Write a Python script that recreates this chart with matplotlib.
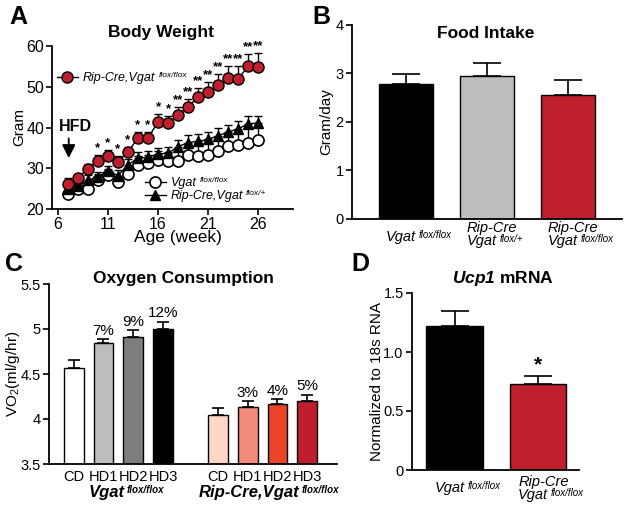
import matplotlib
matplotlib.use('Agg')
import matplotlib.pyplot as plt
from matplotlib.lines import Line2D
from matplotlib.transforms import blended_transform_factory, offset_copy

plt.rcParams['font.family'] = ['Liberation Sans', 'DejaVu Sans']
plt.rcParams['mathtext.fontset'] = 'custom'
plt.rcParams['mathtext.rm'] = 'Liberation Sans'
plt.rcParams['mathtext.it'] = 'Liberation Sans:italic'
plt.rcParams['mathtext.bf'] = 'Liberation Sans:bold'
plt.rcParams['mathtext.bfit'] = 'Liberation Sans:italic:bold'

# ---------------- data ----------------
weeks = list(range(7, 27))
bw_ko = [26.2, 27.7, 29.8, 31.9, 33.0, 31.6, 33.9, 37.5, 37.5, 41.3, 41.1, 43.0, 45.1, 47.5, 48.7, 50.5, 52.1, 52.0, 55.0, 54.9]
bw_ko_sem = [1.3, 1.0, 1.2, 1.4, 1.4, 1.3, 1.4, 1.4, 1.5, 2.0, 1.8, 2.0, 2.0, 2.2, 2.5, 2.7, 3.0, 3.2, 3.0, 3.4]
bw_wt = [23.8, 24.9, 24.9, 27.2, 28.4, 26.6, 28.6, 30.9, 31.3, 32.1, 31.7, 31.9, 33.2, 33.1, 33.3, 34.3, 35.4, 35.6, 36.3, 37.0]
bw_wt_sem = [1.5, 1.0, 1.5, 1.3, 1.5, 1.5, 1.8, 2.0, 2.0, 2.2, 2.4, 2.6, 2.7, 3.0, 3.0, 3.2, 3.3, 3.5, 3.6, 3.6]
bw_het = [24.9, 25.6, 27.0, 27.9, 29.3, 28.2, 30.8, 32.5, 32.7, 33.5, 33.7, 35.3, 36.3, 36.6, 37.1, 38.0, 38.9, 39.7, 40.9, 41.1]
bw_het_sem = [1.0, 1.0, 1.3, 1.2, 1.3, 1.3, 1.5, 1.5, 1.5, 1.5, 1.6, 1.7, 1.8, 1.8, 1.8, 1.8, 1.8, 1.8, 1.8, 1.6]
bw_stars = ['', '', '', '*', '*', '*', '*', '*', '*', '*', '*',
            '**', '**', '**', '**', '**', '**', '**', '**', '**']
bw_legend = [('Rip-Cre,Vgat', 'flox/flox'), ('Vgat', 'flox/flox'), ('Rip-Cre,Vgat', 'flox/+')]

food_labels = [('', 'Vgat', 'flox/flox'), ('Rip-Cre', 'Vgat', 'flox/+'), ('Rip-Cre', 'Vgat', 'flox/flox')]
food_vals = [2.79, 2.94, 2.56]
food_sem = [0.19, 0.27, 0.30]

vo2_diets = ['CD', 'HD1', 'HD2', 'HD3']
vo2_wt = [4.57, 4.84, 4.91, 5.00]
vo2_wt_sem = [0.08, 0.05, 0.08, 0.08]
vo2_ko = [4.04, 4.13, 4.17, 4.20]
vo2_ko_sem = [0.08, 0.07, 0.05, 0.07]
vo2_wt_pct = ['', '7%', '9%', '12%']
vo2_ko_pct = ['', '3%', '4%', '5%']
vo2_groups = [('Vgat', 'flox/flox'), ('Rip-Cre,Vgat', 'flox/flox')]

ucp_labels = [('', 'Vgat', 'flox/flox'), ('Rip-Cre', 'Vgat', 'flox/flox')]
ucp_vals = [1.22, 0.73]
ucp_sem = [0.13, 0.07]

RED = '#c01f2e'
W, H = 629, 513
fig = plt.figure(figsize=(W / 100, H / 100), dpi=100)


def ax_px(l, r, t, b, tsize=10.5):
    ax = fig.add_axes([l / W, 1 - b / H, (r - l) / W, (b - t) / H])
    for s in ['top', 'right']:
        ax.spines[s].set_visible(False)
    for s in ['left', 'bottom']:
        ax.spines[s].set_linewidth(1.3)
    ax.tick_params(direction='out', length=4, width=1.2, labelsize=tsize, pad=2)
    return ax


def up_err(ax, x, y, e, cap, lw=1.2, z=2):
    ax.errorbar(x, y, yerr=[[0] * len(e), e], fmt='none', ecolor='black',
                elinewidth=lw, capsize=cap, capthick=lw, zorder=z)


def add_sup(ax, main_text, sup, size, weight='normal'):
    ax.annotate(sup, xy=(1, 1), xycoords=main_text, xytext=(2.0, 0.3), textcoords='offset points',
                ha='left', va='top', fontsize=size, style='italic', fontweight=weight, zorder=20)


def bar_label(ax, x, lines, base_px, size=10.5, supsize=7):
    # base_px: (single baseline, line-1 baseline, line-2 baseline) in pixels below the x axis
    tr0 = blended_transform_factory(ax.transData, ax.transAxes)
    top, main, sup = lines
    kw = dict(ha='left', va='baseline', fontsize=size, style='italic', clip_on=False)
    if top:
        ax.text(x, 0, top, transform=offset_copy(tr0, fig=fig, x=-20, y=-base_px[1], units='dots'), **kw)
        t = ax.text(x, 0, main, transform=offset_copy(tr0, fig=fig, x=-20, y=-base_px[2], units='dots'), **kw)
    else:
        t = ax.text(x, 0, main, transform=offset_copy(tr0, fig=fig, x=-20, y=-base_px[0], units='dots'), **kw)
    add_sup(ax, t, sup, supsize)


# ---------------- Panel A ----------------
axA = ax_px(52, 293, 46, 209, tsize=11.5)
axA.tick_params(pad=1.5)
up_err(axA, weeks, bw_wt, bw_wt_sem, 3, lw=1.0, z=2)
axA.plot(weeks, bw_wt, '-o', color='black', mfc='white', mec='black', ms=8, lw=1, mew=1.2, zorder=3)
up_err(axA, weeks, bw_het, bw_het_sem, 3, lw=1.0, z=4)
axA.plot(weeks, bw_het, '-^', color='black', ms=7.5, lw=1, zorder=5)
up_err(axA, weeks, bw_ko, bw_ko_sem, 3, lw=1.0, z=6)
axA.plot(weeks, bw_ko, '-o', color='black', mfc=RED, mec='black', ms=8, lw=1, mew=1.0, zorder=7)
for wk, v, e, s in zip(weeks, bw_ko, bw_ko_sem, bw_stars):
    if s:
        axA.text(wk, v + e + 0.2, s, ha='center', va='bottom', fontsize=9.5, fontweight='bold')
axA.set_xlim(5.43, 29.46)
axA.set_ylim(20, 60)
axA.set_xticks([6, 11, 16, 21, 26])
axA.set_yticks([20, 30, 40, 50, 60])
axA.set_xlabel('Age (week)', fontsize=12.5)
axA.xaxis.set_label_coords(0.523, -0.13)
axA.set_ylabel('Gram', fontsize=11)
axA.yaxis.set_label_coords(-0.105, 0.5)
axA.text(7.8, 40.2, 'HFD', ha='center', va='center', fontsize=11.5, fontweight='bold')
axA.annotate('', xy=(7.1, 31.8), xytext=(7.1, 38.0),
             arrowprops=dict(arrowstyle='-|>', color='black', lw=1.3, mutation_scale=20))
h_ko = Line2D([], [], color='black', lw=1, marker='o', mfc=RED, mec='black', ms=8)
h_wt = Line2D([], [], color='black', lw=1, marker='o', mfc='white', mec='black', ms=8, mew=1.2)
h_het = Line2D([], [], color='black', lw=1, marker='^', ms=7.5)
leg1 = axA.legend([h_ko], [bw_legend[0][0]], loc='upper left',
                  bbox_to_anchor=(0.02, 0.84), frameon=False, prop={'style': 'italic', 'size': 9},
                  handlelength=1.7, handletextpad=0.4, borderaxespad=0, borderpad=0)
axA.add_artist(leg1)
leg2 = axA.legend([h_wt, h_het], [bw_legend[1][0], bw_legend[2][0]], loc='lower left',
                  bbox_to_anchor=(0.385, 0.04), frameon=False, prop={'style': 'italic', 'size': 9},
                  handlelength=1.7, handletextpad=0.4, borderaxespad=0, borderpad=0, labelspacing=0.1)
add_sup(axA, leg1.get_texts()[0], bw_legend[0][1], 6)
add_sup(axA, leg2.get_texts()[0], bw_legend[1][1], 6)
add_sup(axA, leg2.get_texts()[1], bw_legend[2][1], 6)

# ---------------- Panel B ----------------
axB = ax_px(352, 622, 25, 219)
xb = list(range(len(food_vals)))
axB.bar(xb, food_vals, width=0.67, color=['black', '#bdbdbd', RED], edgecolor='black', linewidth=1.0, zorder=2)
up_err(axB, xb, food_vals, food_sem, 10)
axB.set_xlim(-0.67, 2.67)
axB.set_ylim(0, 4)
axB.set_yticks([0, 1, 2, 3, 4])
axB.set_xticks([])
for x, lab in zip(xb, food_labels):
    bar_label(axB, x, lab, (241 - 219, 232 - 219, 245 - 219))
axB.set_ylabel('Gram/day', fontsize=11)
axB.yaxis.set_label_coords(-0.07, 0.5)

# ---------------- Panel C ----------------
axC = ax_px(49, 337, 284, 464)
xc_wt = [0, 1, 2, 3]
xc_ko = [4.85, 5.85, 6.85, 7.85]
axC.bar(xc_wt, vo2_wt, width=0.66, color=['white', '#bdbdbd', '#7d7d7d', 'black'],
        edgecolor='black', linewidth=1.0, zorder=2)
axC.bar(xc_ko, vo2_ko, width=0.66, color=['#fdd6c7', '#f38b7b', '#eb4427', '#bf1e2e'],
        edgecolor='black', linewidth=1.0, zorder=2)
up_err(axC, xc_wt, vo2_wt, vo2_wt_sem, 4.5)
up_err(axC, xc_ko, vo2_ko, vo2_ko_sem, 4.5)
for xs, vs, es, ps in [(xc_wt, vo2_wt, vo2_wt_sem, vo2_wt_pct), (xc_ko, vo2_ko, vo2_ko_sem, vo2_ko_pct)]:
    for x, v, e, p in zip(xs, vs, es, ps):
        if p:
            axC.text(x, v + e + 0.015, p, ha='center', va='bottom', fontsize=11)
axC.set_xlim(-0.83, 8.85)
axC.set_ylim(3.5, 5.5)
axC.set_yticks([3.5, 4, 4.5, 5, 5.5])
axC.set_yticklabels(['3.5', '4', '4.5', '5', '5.5'])
axC.set_xticks(xc_wt + xc_ko)
axC.set_xticklabels(vo2_diets * 2, fontsize=10.5)
axC.tick_params(axis='x', length=0, pad=4)
trC = blended_transform_factory(axC.transData, axC.transAxes)
for x0, (main, sup) in zip([xc_wt[0] + 0.49, xc_ko[0] - 0.66], vo2_groups):
    t = axC.text(x0, -0.16, main, transform=trC, ha='left', va='center',
                 fontsize=12, fontweight='bold', style='italic', clip_on=False)
    add_sup(axC, t, sup, 7, weight='bold')
axC.set_ylabel(r'VO$_\mathrm{2}$(ml/g/hr)', fontsize=11)
axC.yaxis.set_label_coords(-0.094, 0.5)

# ---------------- Panel D ----------------
axD = ax_px(412, 579, 293, 470)
xd = [0, 1]
axD.bar(xd, ucp_vals, width=0.68, color=['black', RED], edgecolor='black', linewidth=1.0, zorder=2)
up_err(axD, xd, ucp_vals, ucp_sem, 10)
axD.text(1, ucp_vals[1] + ucp_sem[1] + 0.01, '*', ha='center', va='bottom', fontsize=15, fontweight='bold')
axD.set_xlim(-0.51, 1.49)
axD.set_ylim(0, 1.5)
axD.set_yticks([0, 0.5, 1.0, 1.5])
axD.set_yticklabels(['0', '0.5', '1.0', '1.5'])
axD.set_xticks([])
for x, lab in zip(xd, ucp_labels):
    bar_label(axD, x, lab, (492 - 470, 486 - 470, 499 - 470))
axD.set_ylabel('Normalized to 18s RNA', fontsize=11)
axD.yaxis.set_label_coords(-0.17, 0.5)

# ---------------- titles & panel letters ----------------
for x, y, t in [(161, 33, 'Body Weight'), (486, 33, 'Food Intake'),
                (183, 278, 'Oxygen Consumption'), (503, 278, r'$\mathbfit{Ucp1}$ mRNA')]:
    fig.text(x / W, 1 - y / H, t, ha='center', va='center', fontsize=12.5, fontweight='bold')
for x, y, t in [(18, 17, 'A'), (321, 17, 'B'), (14, 264, 'C'), (360, 264, 'D')]:
    fig.text(x / W, 1 - y / H, t, ha='center', va='center', fontsize=18, fontweight='bold')

fig.savefig('out.png', dpi=100)
